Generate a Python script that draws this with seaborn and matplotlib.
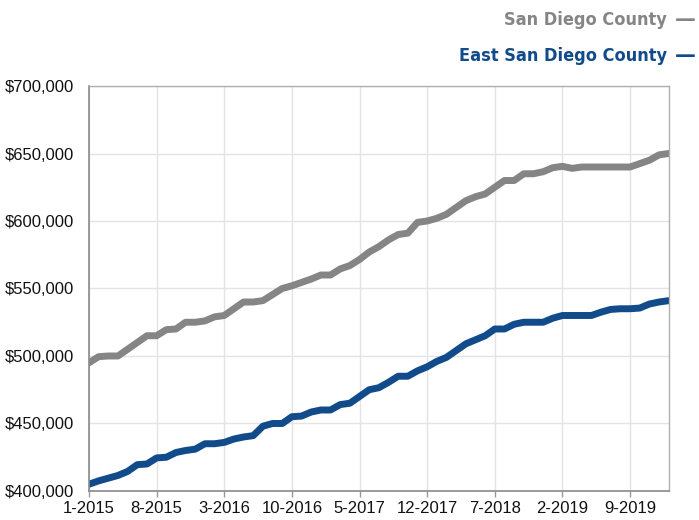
import pandas as pd
import matplotlib.pyplot as plt
import seaborn as sns

# monthly median values, 1-2015 .. 1-2020
months = pd.date_range("2015-01-01", "2020-01-01", freq="MS")
month_labels = [f"{d.month}-{d.year}" for d in months]

san_diego = [495000, 499500, 500000, 500000, 505000, 510000, 515000, 515000, 519500, 520000,
             525000, 525000, 526000, 529000, 530000, 535000, 540000, 540000, 541000, 545500,
             550000, 552000, 554500, 557000, 560000, 560000, 564500, 567000, 571500, 577000,
             581000, 586000, 590000, 591000, 599000, 600000, 602000, 605000, 610000, 615000,
             618000, 620000, 625000, 630000, 630000, 635000, 635000, 636500, 639500, 640500,
             639000, 640000, 640000, 640000, 640000, 640000, 640000, 642500, 645000, 649000,
             650000]

east_san_diego = [405000, 407500, 409500, 411500, 414500, 419500, 420000, 424500, 425000, 428500,
                  430000, 431000, 435000, 435000, 436000, 438500, 440000, 441000, 448000, 450000,
                  450000, 455000, 455500, 458500, 460000, 460000, 464000, 465000, 470000, 475000,
                  476500, 480500, 485000, 485000, 489000, 492000, 496000, 499000, 504000, 509000,
                  512000, 515000, 520000, 520000, 523500, 525000, 525000, 525000, 528000, 530000,
                  530000, 530000, 530000, 532500, 534500, 535000, 535000, 535500, 538500, 540000,
                  541000]

series_names = ["San Diego County", "East San Diego County"]
colors = ["#858585", "#114b8a"]

df = pd.DataFrame({
    "idx": list(range(len(months))) * 2,
    "value": san_diego + east_san_diego,
    "series": [series_names[0]] * len(months) + [series_names[1]] * len(months),
})

sns.set_style("white")
plt.rcParams["font.family"] = ["Liberation Sans", "DejaVu Sans"]

fig = plt.figure(figsize=(6.99, 5.2), dpi=100)
ax = fig.add_axes([0.1273, 0.0558, 0.8294, 0.7788])

sns.lineplot(data=df, x="idx", y="value", hue="series", palette=colors,
             linewidth=5, legend=False, ax=ax)

ax.set_xlim(0, len(months) - 1)
ax.set_ylim(400000, 700000)
tick_pos = list(range(0, len(months) - 1, 7))
ax.set_xticks(tick_pos)
ax.set_xticklabels([month_labels[i] for i in tick_pos], fontsize=12, color="#111111")
ax.set_yticks(range(400000, 700001, 50000))
ax.set_yticklabels([f"${v:,}" for v in range(400000, 700001, 50000)], fontsize=12, color="#111111")
ax.set_xlabel("")
ax.set_ylabel("")

ax.grid(True, color="#e3e3e3", linewidth=1)
ax.set_axisbelow(True)
ax.tick_params(axis="x", bottom=True, length=4, width=1, color="#999999", pad=3)
ax.tick_params(axis="y", left=False, pad=7)
for side in ["left", "bottom"]:
    ax.spines[side].set_color("#8a8a8a")
    ax.spines[side].set_linewidth(1.2)
for side in ["top", "right"]:
    ax.spines[side].set_color("#b0b0b0")
    ax.spines[side].set_linewidth(1)

# legend at the top right: name, then a short dash in the series colour
legend_font = ["Liberation Sans Narrow", "DejaVu Sans"]
for name, color, y in zip(series_names, colors, [0.962, 0.893]):
    fig.text(0.954, y, name, ha="right", va="center", fontsize=13,
             fontweight="bold", fontstretch="condensed", color=color, family=legend_font)
    fig.text(0.966, y, "\u2014", ha="left", va="center", fontsize=15,
             fontweight="bold", color=color, family=["DejaVu Sans"])

fig.savefig("out.png", dpi=100)
